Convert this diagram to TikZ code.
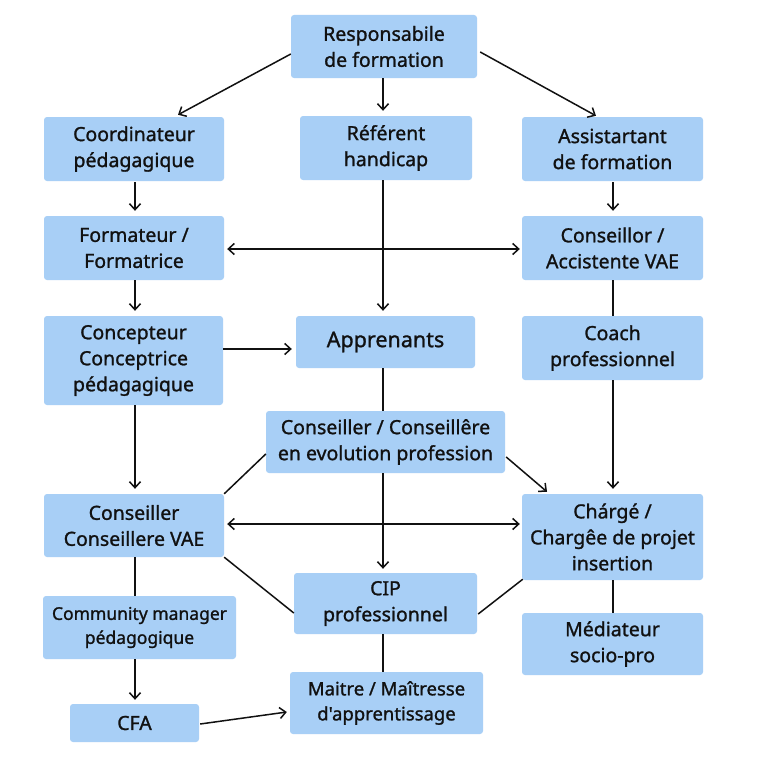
\documentclass[tikz,border=0pt]{standalone}
\usepackage{fontspec}
\setmainfont{Noto Sans}[Ligatures=TeXOff, FakeBold=1.2]
\newfontfamily\boxfont{Noto Sans}[Ligatures=TeXOff, FakeBold=1.2]
\usetikzlibrary{arrows.meta,calc}
\definecolor{boxblue}{HTML}{A8CFF6}
\definecolor{ink}{HTML}{111111}
\tikzset{
  box/.style={draw=none, fill=boxblue, rounded corners=3pt, align=center, inner sep=2pt,
    text=ink, font=\boxfont\bfseries\fontsize{19.5}{26}\selectfont},
  conn/.style={draw=ink, line width=1.5pt},
  arr/.style={conn, -{Straight Barb[length=6pt,width=11pt,line width=1.5pt]}},
  darr/.style={conn, {Straight Barb[length=6pt,width=11pt,line width=1.5pt]}-{Straight Barb[length=6pt,width=11pt,line width=1.5pt]}}
}
\begin{document}
\begin{tikzpicture}[x=1pt,y=-1pt]
\useasboundingbox (0,0) rectangle (768,768);
\fill[white] (0,0) rectangle (768,768);
% nodes
\node[box, minimum width=186pt, minimum height=63pt] (resp) at (384,46.5) {Responsabile\\de formation};
\node[box, minimum width=180pt, minimum height=64pt] (coord) at (134,149) {Coordinateur\\pédagagique};
\node[box, minimum width=172pt, minimum height=64pt] (ref) at (386,148) {Référent\\handicap};
\node[box, minimum width=181pt, minimum height=64pt] (assist) at (612.5,149) {Assistartant\\de formation};
\node[box, minimum width=180pt, minimum height=64pt] (form) at (134,248) {Formateur /\\Formatrice};
\node[box, minimum width=181pt, minimum height=64pt] (consl) at (612.5,248) {Conseillor /\\Accistente VAE};
\node[box, minimum width=179pt, minimum height=89pt] (concep) at (133.5,360.5) {Concepteur\\Conceptrice\\pédagagique};
\node[box, minimum width=179pt, minimum height=52pt, font=\boxfont\bfseries\fontsize{21.5}{26}\selectfont] (appr) at (385.5,342) {Apprenants};
\node[box, minimum width=181pt, minimum height=64pt] (coach) at (612.5,348) {Coach\\professionnel};
\node[box, minimum width=239pt, minimum height=62pt] (evol) at (385.5,442) {Conseiller / Conseillêre\\en evolution profession};
\node[box, minimum width=180pt, minimum height=63pt] (cvae) at (134,525.5) {Conseiller\\Conseillere VAE};
\node[box, minimum width=181pt, minimum height=86pt] (charge) at (612.5,537) {Chárgé /\\Chargêe de projet\\insertion};
\node[box, minimum width=183pt, minimum height=61pt] (cip) at (385.5,603.5) {CIP\\professionnel};
\node[box, minimum width=193pt, minimum height=63pt, font=\boxfont\bfseries\fontsize{17.5}{24}\selectfont] (comm) at (139.5,627.5) {Community manager\\pédagogique};
\node[box, minimum width=181pt, minimum height=62pt] (medi) at (612.5,644) {Médiateur\\socio-pro};
\node[box, minimum width=129pt, minimum height=38pt] (cfa) at (134.5,723) {CFA};
\node[box, minimum width=193pt, minimum height=62pt, font=\boxfont\bfseries\fontsize{18.5}{25}\selectfont] (maitre) at (386.5,703) {Maitre / Maîtresse\\d'apprentissage};
% connectors
\draw[arr] ($(resp.west)+(0,7.5)$) -- ($(coord.north)+(44,-2)$);
\draw[arr] ($(resp.south)+(-1,0)$) -- ($(ref.north)+(-3,-5)$);
\draw[arr] ($(resp.east)+(3,5.5)$) -- ($(assist.north)+(-16.5,-1)$);
\draw[arr] ($(coord.south)+(1,1)$) -- ($(form.north)+(1,-5)$);
\draw[arr] ($(assist.south)+(0.5,1)$) -- ($(consl.north)+(0.5,-5)$);
\draw[arr] ($(ref.south)+(-3,0)$) -- ($(appr.north)+(-2.5,-5)$);
\draw[darr] ($(form.east)+(3,1)$) -- ($(consl.west)+(-2,1)$);
\draw[arr] ($(form.south)+(1,0)$) -- ($(concep.north)+(1.5,-5)$);
\draw[conn] ($(consl.south)+(0.5,0)$) -- ($(coach.north)+(0.5,0)$);
\draw[arr] ($(concep.east)+(0,-11.5)$) -- ($(appr.west)+(-4,7)$);
\draw[conn] ($(appr.south)+(-2.5,0)$) -- ($(evol.north)+(-2.5,0)$);
\draw[arr] ($(concep.south)+(1.5,0)$) -- ($(cvae.north)+(1,-5)$);
\draw[arr] ($(coach.south)+(0.5,0)$) -- ($(charge.north)+(0.5,-5)$);
\draw[arr] ($(evol.east)+(1,15)$) -- ($(charge.north)+(-65.5,-2)$);
\draw[conn] ($(evol.west)+(0,12)$) -- (cvae.north east);
\draw[darr] ($(cvae.east)+(3,-1.5)$) -- ($(charge.west)+(-2,-13)$);
\draw[arr] ($(evol.south)+(-2.5,0)$) -- ($(cip.north)+(-2.5,-4)$);
\draw[conn] (cvae.south east) -- ($(cip.west)+(0,9.5)$);
\draw[conn] ($(charge.south west)+(1,-1)$) -- ($(cip.east)+(1,10.5)$);
\draw[conn] ($(cvae.south)+(1,0)$) -- ($(comm.north)+(-4.5,0)$);
\draw[conn] ($(charge.south)+(0.5,0)$) -- ($(medi.north)+(0.5,0)$);
\draw[conn] ($(cip.south)+(-2.5,0)$) -- ($(maitre.north)+(-3.5,0)$);
\draw[arr] ($(comm.south)+(-4.5,0)$) -- ($(cfa.north)+(0.5,-4)$);
\draw[arr] ($(cfa.east)+(1,1)$) -- ($(maitre.west)+(-3,9)$);
\end{tikzpicture}
\end{document}
